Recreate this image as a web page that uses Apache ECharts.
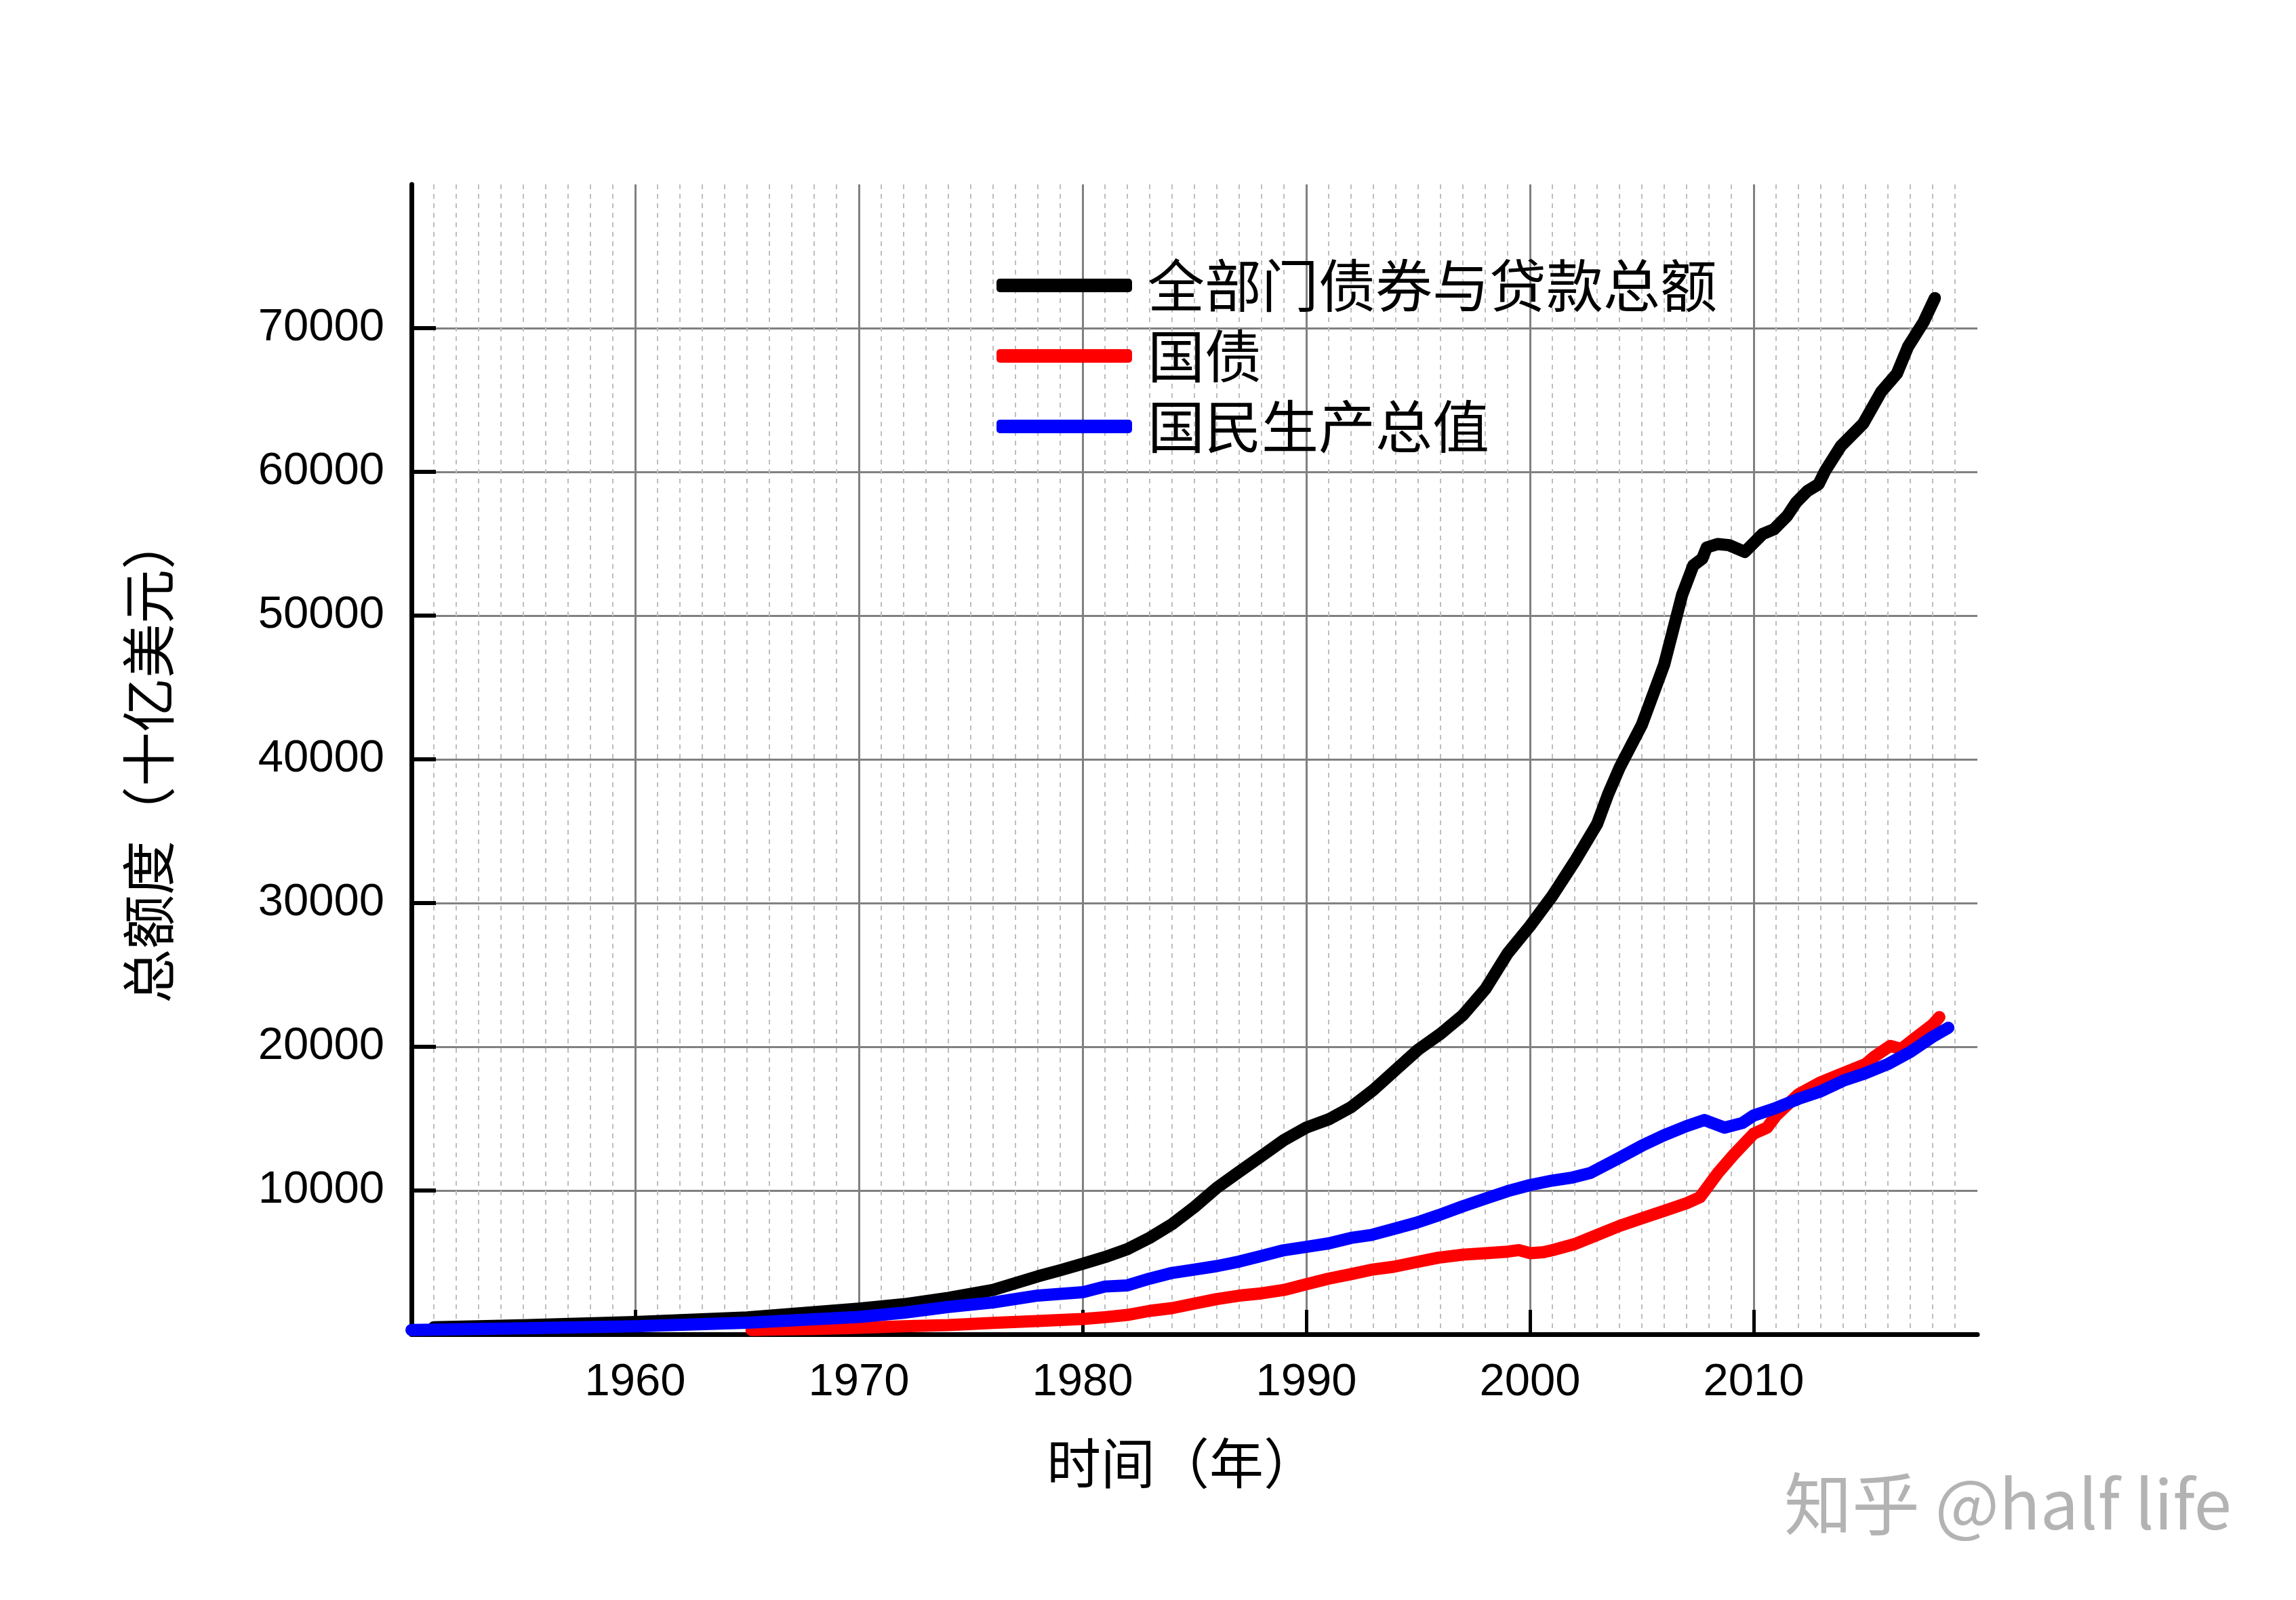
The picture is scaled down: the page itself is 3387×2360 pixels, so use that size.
<!DOCTYPE html>
<html>
<head>
<meta charset="utf-8">
<script src="https://cdn.jsdelivr.net/npm/echarts@6/dist/echarts.min.js"></script>
<style>
html,body{margin:0;padding:0;background:#fff;}
#c{width:3387px;height:2360px;}
</style>
</head>
<body>
<div id="c"></div>
<script>
// ---- data (values in billions of USD, x = year) ----
var seriesNames = ['全部门债券与贷款总额', '国债', '国民生产总值'];

var debtYears  = [1951,1955,1960,1965,1970,1972,1974,1976,1978,1979,1980,1981,1982,1983,1984,1985,1986,1987,1988,1989,1990,1991,1992,1993,1994,1995,1996,1997,1998,1999,2000,2001,2002,2003,2003.5,2004,2005,2006,2006.8,2007.3,2007.7,2007.9,2008.4,2008.9,2009.6,2010,2010.4,2010.9,2011.5,2011.9,2012.4,2012.9,2013.2,2013.9,2014.9,2015.7,2016.4,2016.9,2017.6,2018.1];
var debtValues = [480,620,850,1170,1780,2085,2530,3080,4030,4450,4900,5370,5920,6710,7660,8850,10190,11300,12400,13510,14380,14950,15800,17000,18400,19800,20900,22200,24000,26500,28400,30500,32900,35500,37600,39400,42400,46600,51440,53490,53960,54740,54980,54900,54430,55050,55680,56000,56940,57880,58670,59140,60080,61800,63370,65570,66830,68710,70440,72090];

var govYears  = [1965.2,1966,1968,1969.5,1972,1974,1976,1978,1980,1981,1982,1983,1984,1985,1986,1987,1988,1989,1990,1991,1992,1992.9,1993.9,1994.9,1995.9,1997,1998,1999,1999.5,2000,2000.6,2001,2002,2003,2004,2005,2006,2007,2007.6,2008.4,2009.1,2010,2010.6,2011,2012,2013,2014,2015,2015.4,2016.1,2016.6,2017.2,2018,2018.3];
var govValues = [300,320,370,427,553,632,790,916,1058,1185,1343,1627,1817,2133,2449,2686,2844,3080,3475,3870,4180,4484,4694,5010,5326,5536,5641,5747,5852,5641,5705,5852,6273,6904,7536,8062,8588,9115,9536,11220,12483,13956,14377,15219,16692,17535,18166,18797,19324,20061,19850,20587,21534,22061];

var gdpYears  = [1950,1955,1960,1965,1970,1972,1974,1976,1978,1980,1981,1982,1983,1984,1985,1986,1987,1988,1989,1990,1991,1992,1992.9,1993.9,1994.9,1995.9,1997,1998,1999,2000,2001,2001.9,2002.7,2004,2005,2006,2007,2007.8,2008.7,2009.5,2010,2011,2012,2013,2014,2015,2016,2017,2018,2018.7];
var gdpValues = [290,410,550,800,1200,1500,1900,2210,2690,2920,3320,3400,3870,4265,4500,4740,5055,5450,5845,6080,6320,6700,6904,7325,7746,8273,8904,9430,9957,10378,10694,10904,11220,12272,13114,13851,14482,14903,14377,14700,15219,15745,16377,16903,17640,18166,18797,19640,20692,21324];

var xTickLabels = [1960,1970,1980,1990,2000,2010];
var yTickLabels = [10000,20000,30000,40000,50000,60000,70000];
var watermark = '知乎 @half life';

function zip(xs, ys){ var out=[]; for(var i=0;i<xs.length;i++) out.push([xs[i], ys[i]]); return out; }

var chart = echarts.init(document.getElementById('c'), null, {renderer:'canvas'});
var numFont = '"Liberation Sans", Arial, sans-serif';
var cjkFont = '"Noto Sans CJK SC", sans-serif';

var option = {
  animation: false,
  backgroundColor: '#ffffff',
  grid: {left: 607, top: 272, width: 2310, height: 1696, containLabel: false},
  legend: {
    orient: 'vertical',
    left: 1465, top: 371,
    itemWidth: 200, itemHeight: 20,
    itemGap: 14,
    icon: 'roundRect',
    itemStyle: {borderWidth: 0},
    textStyle: {fontFamily: cjkFont, fontSize: 84, color: '#000', lineHeight: 90, padding: [0,0,0,18]},
    data: seriesNames
  },
  xAxis: {
    type: 'value', min: 1950, max: 2020, interval: 10,
    name: '时间（年）', nameLocation: 'middle', nameGap: 150,
    nameTextStyle: {fontFamily: cjkFont, fontSize: 80, color: '#000', padding: [0, 36, 0, 0]},
    axisLine: {show: true, onZero: false, lineStyle: {color: '#000', width: 7, cap: 'round'}},
    axisTick: {show: true, inside: true, length: 36, lineStyle: {color: '#000', width: 5}, customValues: xTickLabels},
    axisLabel: {fontFamily: numFont, fontSize: 67, color: '#000', margin: 38, customValues: xTickLabels,
                formatter: function(v){ return String(v); }},
    splitLine: {show: true, lineStyle: {color: '#808080', width: 3}},
    minorTick: {show: false, splitNumber: 10},
    minorSplitLine: {show: true, lineStyle: {color: '#bdbdbd', width: 2, type: [7, 7]}}
  },
  yAxis: {
    type: 'value', min: 0, max: 80000, interval: 10000,
    name: '总额度（十亿美元）', nameLocation: 'middle', nameGap: 348, nameRotate: 90,
    nameTextStyle: {fontFamily: cjkFont, fontSize: 80, color: '#000'},
    axisLine: {show: true, onZero: false, lineStyle: {color: '#000', width: 7, cap: 'round'}},
    axisTick: {show: true, inside: true, length: 36, lineStyle: {color: '#000', width: 6}, customValues: yTickLabels},
    axisLabel: {fontFamily: numFont, fontSize: 67, color: '#000', margin: 40, customValues: yTickLabels,
                formatter: function(v){ return String(v); }},
    splitLine: {show: true, lineStyle: {color: '#808080', width: 3}}
  },
  series: [
    {name: seriesNames[0], type: 'line', data: zip(debtYears, debtValues), symbol: 'none', showSymbol: false,
     color: '#000000', lineStyle: {color: '#000000', width: 18, cap: 'round', join: 'round'}},
    {name: seriesNames[1], type: 'line', data: zip(govYears, govValues), symbol: 'none', showSymbol: false,
     color: '#ff0000', lineStyle: {color: '#ff0000', width: 18, cap: 'round', join: 'round'}},
    {name: seriesNames[2], type: 'line', data: zip(gdpYears, gdpValues), symbol: 'none', showSymbol: false,
     color: '#0000ff', lineStyle: {color: '#0000ff', width: 18, cap: 'round', join: 'round'}}
  ],
  graphic: [
    {type: 'text', left: 2632, top: 2168, silent: true,
     style: {text: watermark, fontFamily: cjkFont, fontSize: 100, fill: '#b3b3b3'}}
  ]
};
chart.setOption(option);
</script>
</body>
</html>
